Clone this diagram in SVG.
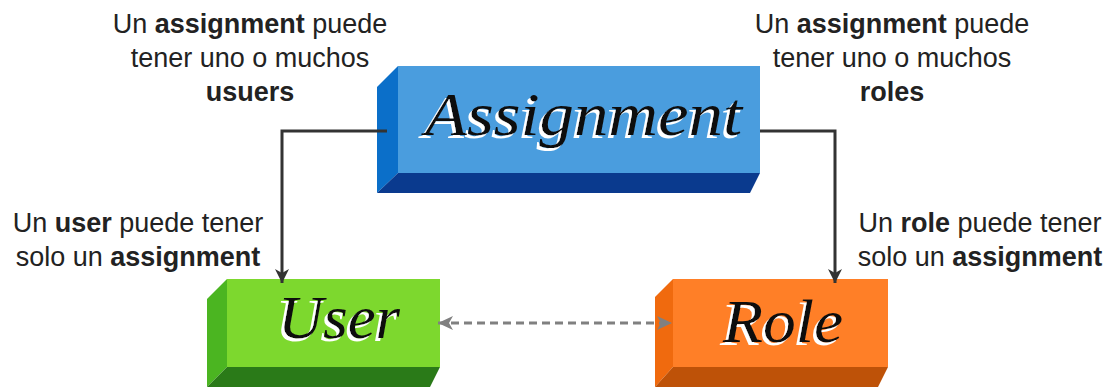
<svg xmlns="http://www.w3.org/2000/svg" width="1112" height="388" viewBox="0 0 1112 388">
<style>
.lbl{font-family:"Liberation Sans",Arial,sans-serif;font-size:27px;fill:#222;text-anchor:middle}
.b{font-weight:bold}
.hand{font-family:"Liberation Serif","DejaVu Serif",serif;font-style:italic;font-size:62px;fill:#111111;filter:url(#wshadow)}
.conn{fill:none;stroke:#333;stroke-width:3}
.dash{fill:none;stroke:#808080;stroke-width:3;stroke-dasharray:8 5}
</style>
<defs>
<filter id="wshadow" x="-10%" y="-30%" width="120%" height="160%">
<feOffset in="SourceAlpha" dx="-3" dy="3" result="off"/>
<feFlood flood-color="#ffffff" result="white"/>
<feComposite in="white" in2="off" operator="in" result="shadow"/>
<feMerge>
<feMergeNode in="shadow"/>
<feMergeNode in="SourceGraphic"/>
</feMerge>
</filter>
<marker id="ah" markerUnits="userSpaceOnUse" markerWidth="16" markerHeight="16" refX="14" refY="7" orient="auto">
<path d="M0,0 L14,7 L0,14 L4,7 z" fill="#333"/>
</marker>
<marker id="ag" markerUnits="userSpaceOnUse" markerWidth="18" markerHeight="16" refX="15" refY="7" orient="auto-start-reverse">
<path d="M0,0 L15,7 L0,14 L4,7 z" fill="#808080"/>
</marker>
</defs>
<rect width="1112" height="388" fill="#ffffff"/>

<g id="assignment">
<polygon points="398,66 377,87 377,193 398,173" fill="#0B6FC9"/>
<polygon points="398,173 760,173 750,193 377,193" fill="#0A3A8E"/>
<rect x="398" y="66" width="362" height="107" fill="#4A9DDE"/>
<text class="hand" x="425" y="135" textLength="317" lengthAdjust="spacingAndGlyphs">Assignment</text>
</g>

<g id="user">
<polygon points="227,279 207,299 207,387 227,367" fill="#4BB521"/>
<polygon points="227,367 440,367 430,387 207,387" fill="#2A7A18"/>
<rect x="227" y="279" width="213" height="88" fill="#7DD82E"/>
<text class="hand" x="278" y="338" textLength="122" lengthAdjust="spacingAndGlyphs">User</text>
</g>

<g id="role">
<polygon points="673,279 655,297 655,387 673,367" fill="#F06A0E"/>
<polygon points="673,367 888,367 878,387 655,387" fill="#BE5208"/>
<rect x="673" y="279" width="215" height="88" fill="#FF7F27"/>
<text class="hand" x="723" y="342" textLength="120" lengthAdjust="spacingAndGlyphs">Role</text>
</g>

<g id="connectors">
<path class="conn" d="M387,131 H282 V283" marker-end="url(#ah)"/>
<path class="conn" d="M760,131 H835 V283" marker-end="url(#ah)"/>
<path class="dash" d="M438,323 H672" marker-start="url(#ag)" marker-end="url(#ag)"/>
</g>

<g id="label-top-left">
<text class="lbl" x="250" y="33">Un <tspan class="b">assignment</tspan> puede</text>
<text class="lbl" x="250" y="67">tener uno o muchos</text>
<text class="lbl b" x="250" y="101">usuers</text>
</g>
<g id="label-top-right">
<text class="lbl" x="892" y="33">Un <tspan class="b">assignment</tspan> puede</text>
<text class="lbl" x="892" y="67">tener uno o muchos</text>
<text class="lbl b" x="892" y="101">roles</text>
</g>
<g id="label-left">
<text class="lbl" x="138" y="232">Un <tspan class="b">user</tspan> puede tener</text>
<text class="lbl" x="138" y="266">solo un <tspan class="b">assignment</tspan></text>
</g>
<g id="label-right">
<text class="lbl" x="980" y="232">Un <tspan class="b">role</tspan> puede tener</text>
<text class="lbl" x="980" y="266">solo un <tspan class="b">assignment</tspan></text>
</g>
</svg>
